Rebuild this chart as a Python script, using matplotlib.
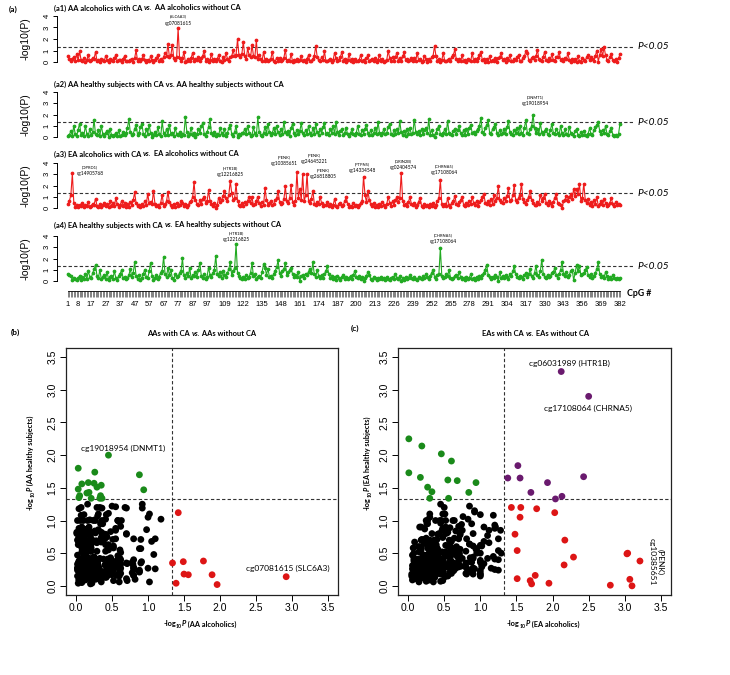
import numpy as np
import matplotlib
matplotlib.use('Agg')
import matplotlib.pyplot as plt
from matplotlib.ticker import FormatStrFormatter

# ---------------- data ----------------
cpg = list(range(1, 383))
cpg_labels = [1, 8, 17, 27, 37, 47, 57, 67, 77, 87, 97, 109, 122, 135, 148, 161, 174,
              187, 200, 213, 226, 239, 252, 265, 278, 291, 304, 317, 330, 343, 356, 369, 382]

# -log10(P), AA alcoholics with CA vs without CA
a1 = [0.52,0.25,0.08,0.30,0.41,0.13,0.71,0.15,0.92,0.20,0.08,0.31,0.02,0.16,0.60,0.07,0.19,0.33,0.29,0.88,
      0.10,0.21,0.04,0.26,0.15,0.09,0.52,0.20,0.03,0.22,0.17,0.05,0.31,0.62,0.08,0.16,0.21,0.02,0.25,0.50,
      0.12,0.05,0.08,0.19,0.28,0.03,0.35,1.02,0.11,0.25,0.06,0.29,0.61,0.14,0.04,0.21,0.07,0.49,0.20,0.04,
      0.16,0.33,0.62,0.10,0.22,0.05,0.45,0.78,0.55,1.56,0.42,0.60,1.49,0.35,0.18,0.47,2.92,0.38,0.05,0.31,
      0.88,0.03,0.12,0.27,0.06,0.36,0.80,0.09,0.22,0.14,0.43,0.08,0.37,0.55,1.00,0.13,0.25,0.04,0.17,0.71,
      0.10,0.24,0.06,0.28,0.60,0.12,0.02,0.41,0.15,0.82,0.30,0.08,0.45,0.52,1.02,0.48,0.63,1.96,0.57,0.44,
      0.70,1.77,0.51,0.26,1.18,0.62,0.40,1.50,0.55,0.47,1.89,0.26,0.58,0.22,0.13,0.91,0.08,0.30,0.07,0.15,
      0.29,0.90,0.12,0.04,0.36,0.11,0.33,0.08,0.19,0.36,1.08,0.06,0.20,0.11,0.70,0.04,0.18,0.07,0.22,0.05,
      0.21,0.50,0.06,0.17,0.03,0.30,0.58,0.05,0.13,0.27,0.52,1.42,0.44,0.17,0.09,0.40,0.15,0.92,0.11,0.06,
      0.14,0.28,0.03,0.19,0.80,0.33,0.09,0.16,0.41,0.90,0.12,0.27,0.01,0.15,0.70,0.10,0.24,0.04,0.28,0.13,
      0.06,0.21,0.62,0.09,0.18,0.04,0.31,0.60,0.05,0.17,0.22,0.08,0.35,0.02,0.21,0.58,0.12,0.26,0.03,0.10,
      0.18,0.98,0.36,0.09,0.41,0.13,0.45,0.80,0.11,0.34,0.07,0.48,0.88,0.17,0.30,0.05,0.19,0.33,0.06,0.35,
      0.11,0.80,0.15,0.28,0.02,0.10,0.52,0.26,0.04,0.25,0.13,0.41,0.56,1.39,0.48,0.11,0.27,0.02,0.16,0.78,
      0.13,0.06,0.15,0.30,0.08,0.45,0.61,1.10,0.22,0.09,0.24,0.05,0.60,0.08,0.21,0.03,0.26,0.19,0.11,0.79,
      0.10,0.23,0.09,0.35,0.60,0.88,0.14,0.27,0.01,0.30,0.03,0.50,0.06,0.20,0.08,0.33,0.04,0.37,0.45,0.80,
      0.16,0.28,0.02,0.31,0.18,0.61,0.12,0.05,0.29,0.16,0.41,0.62,0.10,0.07,0.35,0.48,0.94,0.80,0.18,0.11,
      0.34,0.45,0.20,0.52,1.05,0.27,0.16,0.06,0.44,0.90,0.18,0.09,0.33,0.21,0.70,0.15,0.08,0.40,0.47,0.88,
      0.16,0.30,0.07,0.35,0.22,0.80,0.18,0.04,0.26,0.13,0.29,0.04,0.50,0.08,0.02,0.31,0.17,0.10,0.42,0.60,
      0.15,0.41,0.28,0.09,0.55,1.00,0.04,0.62,1.10,0.52,1.34,0.58,0.20,0.13,0.45,0.70,0.16,0.09,0.25,0.04,
      0.32,0.68]

# -log10(P), AA healthy subjects with CA vs without CA
a2 = [0.08,0.22,0.52,0.11,1.02,0.25,0.08,0.66,1.19,0.20,0.37,0.13,1.00,0.28,0.06,0.71,0.19,0.42,1.51,0.24,
      0.16,0.58,0.09,1.01,0.27,0.12,0.35,0.53,0.04,0.70,0.21,0.07,0.19,0.33,0.05,0.61,0.10,0.15,0.44,0.17,
      0.32,0.80,1.56,0.42,0.15,0.28,0.71,1.10,0.19,0.38,0.86,1.20,0.24,0.11,0.67,0.29,1.08,0.35,0.03,0.22,
      0.43,0.14,0.91,0.27,0.08,1.38,0.36,0.20,0.72,0.17,1.09,0.31,0.37,0.06,0.84,0.25,0.14,0.41,0.13,0.30,
      0.22,1.80,0.48,0.10,0.29,0.81,0.16,0.37,0.04,0.23,0.75,0.32,0.95,1.21,0.27,0.13,0.44,0.88,1.58,0.34,
      0.19,0.42,0.08,0.26,0.15,0.80,0.33,0.21,0.69,0.10,0.38,0.77,1.11,0.24,0.06,0.43,1.00,0.02,0.29,0.16,
      0.35,0.38,0.71,0.27,1.02,0.40,0.13,0.18,0.85,0.32,0.17,1.74,0.46,0.21,0.09,0.37,0.90,0.28,1.20,0.42,
      0.17,0.35,0.82,0.24,1.00,0.41,0.15,0.72,0.30,1.34,0.48,0.23,0.57,0.11,0.79,1.18,0.34,0.20,0.66,0.27,
      0.53,1.22,0.38,0.19,0.63,0.25,1.00,0.36,0.14,0.81,0.29,1.12,0.41,0.18,0.70,0.32,0.87,1.25,0.26,0.39,
      0.22,0.67,0.35,1.01,0.28,1.34,0.42,0.17,0.53,0.71,0.20,0.38,0.80,0.25,0.11,0.36,0.69,0.23,0.15,0.40,
      1.00,0.31,0.19,0.64,0.28,0.75,1.10,0.37,0.22,0.66,0.15,0.33,0.82,0.27,1.34,0.40,0.18,0.35,0.71,0.24,
      0.38,0.86,1.19,0.30,0.17,0.63,0.25,0.72,0.34,1.38,0.41,0.20,0.57,0.13,0.68,0.29,0.78,0.23,0.39,1.54,
      0.46,0.25,0.52,0.18,0.70,0.28,0.61,0.84,0.35,1.57,0.22,0.63,0.16,0.04,0.38,0.74,1.00,0.27,0.19,0.36,
      0.68,0.31,1.42,0.40,0.24,0.17,0.55,0.72,0.29,0.63,1.00,0.32,0.20,0.58,0.14,0.69,0.26,0.81,1.09,0.33,
      0.41,0.23,0.56,0.74,0.98,1.70,0.45,0.30,0.82,1.07,1.48,0.39,0.25,0.71,0.88,1.20,0.34,0.21,0.63,0.28,
      0.37,0.69,0.24,0.86,1.43,0.42,0.31,0.18,0.66,0.33,0.79,0.27,1.00,0.38,0.22,0.83,1.47,0.40,0.29,0.72,
      0.95,2.00,0.76,0.35,0.68,0.27,1.25,0.41,0.23,0.57,0.70,0.30,0.18,0.64,1.19,0.33,0.26,0.72,0.39,0.21,
      1.00,0.35,0.22,0.67,0.29,0.16,0.90,0.38,0.24,0.11,0.53,0.70,0.19,0.08,0.47,0.15,0.56,0.21,0.13,0.30,
      0.80,0.23,0.17,0.62,0.88,1.05,1.35,0.51,0.26,0.58,0.35,1.00,0.29,0.18,0.55,0.80,0.22,0.11,0.16,0.09,
      0.27,1.20]

# -log10(P), EA alcoholics with CA vs without CA
a3 = [0.35,0.62,1.20,3.07,0.48,0.12,0.25,0.06,0.31,0.18,0.44,0.09,0.27,0.15,0.52,0.08,0.21,0.36,0.30,0.84,
      0.22,0.11,0.38,0.05,0.29,0.47,0.14,0.33,0.07,0.58,0.20,0.41,0.16,0.90,0.35,0.10,0.26,0.62,0.19,0.45,
      0.13,0.32,0.08,0.51,0.24,0.70,1.38,0.42,0.17,0.28,0.06,0.39,0.22,0.64,0.31,1.25,0.47,0.55,0.36,1.51,
      0.40,0.15,0.27,0.09,0.48,1.20,0.19,0.33,0.61,1.43,0.52,0.25,0.12,0.37,0.07,0.44,0.21,0.30,0.58,0.46,
      0.18,0.35,0.09,0.27,0.50,0.63,0.95,2.29,0.72,0.40,0.26,0.68,0.33,0.81,1.00,0.47,0.59,1.56,0.64,0.38,
      0.22,0.45,0.01,0.30,0.90,0.54,0.70,1.05,1.51,0.86,0.60,1.18,2.43,1.29,0.75,0.92,2.12,0.64,0.31,0.17,
      0.42,0.20,0.55,0.34,0.66,1.00,0.48,0.94,0.25,0.37,0.60,1.02,0.41,0.18,0.53,0.27,1.78,0.72,0.30,0.45,
      0.60,0.24,0.39,0.70,0.85,1.52,0.57,0.33,0.48,0.76,1.93,0.64,0.41,0.88,2.03,0.55,0.29,0.62,3.21,0.90,
      1.71,0.72,3.03,0.58,1.12,3.04,0.66,0.48,0.81,1.55,0.40,0.27,0.52,0.35,1.00,0.44,0.19,0.31,0.23,0.56,
      0.14,0.38,0.09,0.27,0.80,0.21,0.06,0.33,0.48,0.15,0.29,0.58,1.00,0.36,0.12,0.22,0.07,0.41,0.18,0.30,
      0.09,0.26,0.45,0.62,2.80,1.15,0.54,1.48,0.71,0.33,0.20,0.41,0.13,0.28,0.06,0.37,0.19,0.52,0.24,0.11,
      0.34,1.00,0.45,0.22,0.58,0.31,0.67,1.02,0.49,0.86,3.10,0.64,0.28,0.40,0.17,0.52,1.00,0.35,0.23,0.46,
      0.12,0.30,0.57,0.90,0.21,0.08,0.38,0.16,0.27,0.05,0.33,0.19,0.44,0.10,0.29,0.62,0.85,2.50,0.40,0.22,
      0.36,0.18,0.90,0.27,0.11,0.44,0.60,1.10,0.39,0.25,0.52,0.70,1.00,0.31,0.15,0.47,0.23,0.58,0.34,1.00,
      0.41,0.27,0.62,0.19,0.50,0.73,0.95,1.25,0.46,0.33,0.58,0.24,0.81,0.37,1.20,0.65,0.88,1.95,0.72,0.54,
      0.43,0.86,0.62,1.05,1.76,0.58,0.71,1.12,2.04,0.67,0.49,0.92,1.18,2.16,0.80,0.55,0.38,0.70,1.02,1.55,
      0.70,0.44,0.25,0.30,0.52,0.37,1.20,0.60,0.85,1.25,0.48,0.29,0.63,0.41,0.18,0.55,0.92,1.25,0.46,0.33,
      0.27,0.01,0.58,0.75,1.10,0.62,0.94,1.21,0.83,1.69,1.05,1.70,1.28,2.13,0.66,0.90,2.17,0.74,0.45,0.80,
      0.31,0.52,0.22,0.68,0.40,1.00,0.17,0.36,0.58,0.25,0.80,0.43,0.14,0.29,0.47,0.90,0.33,0.20,0.51,0.26,
      0.38,0.30]

# -log10(P), EA healthy subjects with CA vs without CA
a4 = [0.62,0.55,0.41,0.10,0.30,0.18,0.07,0.26,0.45,0.13,0.35,0.21,0.58,0.16,0.90,0.38,0.24,0.70,1.05,1.43,
      0.46,0.28,1.00,0.15,0.37,0.52,0.22,0.80,0.11,0.33,0.48,0.19,0.90,0.27,0.06,0.41,0.63,1.00,0.25,0.36,
      0.14,0.29,0.50,1.10,0.34,0.72,1.65,0.43,0.21,0.57,0.09,0.31,0.66,1.00,0.38,0.24,0.85,1.62,0.47,0.11,
      0.28,0.52,0.17,0.40,0.75,0.93,2.14,0.61,0.35,1.20,0.49,1.00,0.26,0.13,0.58,0.32,0.44,0.70,0.89,2.02,
      0.55,0.30,0.67,0.41,1.20,0.23,0.50,0.44,0.78,0.36,0.95,1.61,0.48,0.27,0.62,0.18,0.39,1.20,0.57,0.33,
      0.71,0.96,2.25,0.64,0.42,0.81,0.29,0.90,0.54,0.37,0.68,1.08,1.67,0.50,0.85,1.15,3.28,0.73,0.46,0.31,
      0.22,0.40,0.15,0.50,0.27,0.36,0.74,1.58,0.43,0.60,0.19,0.32,0.48,0.25,0.82,1.51,1.18,0.56,1.10,0.38,
      0.47,0.26,0.63,0.91,1.22,1.84,0.70,0.41,0.88,1.06,1.58,0.52,0.79,0.95,1.12,0.61,0.34,0.57,0.38,0.80,
      0.03,0.42,0.49,0.27,0.66,0.50,0.84,1.10,0.72,1.65,0.58,0.36,1.00,0.45,0.23,0.51,0.30,0.62,0.87,1.34,
      0.60,0.28,0.41,0.19,0.35,0.12,0.47,0.26,0.08,0.33,0.50,0.21,0.39,0.14,0.30,0.44,0.17,0.56,0.90,0.37,
      0.25,0.43,0.18,0.32,0.01,0.27,0.46,0.79,0.50,0.22,0.13,0.35,0.24,0.09,0.31,0.20,0.40,0.15,0.28,0.11,
      0.34,0.19,0.07,0.26,0.38,0.16,0.60,0.29,0.21,0.43,0.00,0.25,0.12,0.36,0.18,0.30,0.50,0.23,0.14,0.32,
      0.20,0.09,0.35,0.27,0.16,0.41,0.24,0.60,0.33,0.18,0.46,0.71,1.00,0.38,0.22,0.55,0.64,2.90,0.47,0.29,
      0.36,0.58,0.44,1.00,0.31,0.19,0.27,0.42,0.53,0.25,0.80,0.34,0.15,0.28,0.06,0.39,0.22,0.31,0.60,0.17,
      0.26,0.13,0.35,0.21,0.44,0.30,0.57,0.72,1.00,1.44,0.52,0.33,0.18,0.40,0.25,0.49,0.36,0.04,0.80,0.29,
      0.41,0.23,0.55,0.34,0.16,0.62,0.47,0.85,1.33,0.58,0.37,0.26,0.45,0.32,0.19,0.50,0.70,0.39,0.61,1.05,
      0.44,0.28,0.73,1.34,0.52,0.36,0.88,1.91,0.64,0.40,0.23,0.57,0.35,0.48,0.70,0.82,1.13,0.54,0.31,0.66,
      0.95,1.73,0.60,0.42,0.77,0.33,0.56,0.90,1.02,0.08,0.68,1.43,0.85,1.37,0.49,0.61,0.70,0.94,1.25,0.53,
      0.38,0.62,0.27,0.45,0.71,1.09,1.66,0.58,0.34,0.47,0.29,0.80,0.41,0.22,0.36,0.18,0.50,0.31,0.14,0.27,
      0.20,0.30]

assert all(len(s) == 382 for s in (a1, a2, a3, a4)), [len(s) for s in (a1, a2, a3, a4)]

threshold = 1.33      # dashed reference line (P<0.05)
sig_cut = 1.30        # -log10(0.05)

# ---------------- layout helpers ----------------
W, H = 730, 675
fig = plt.figure(figsize=(W / 100, H / 100), dpi=100)
R = fig.canvas.get_renderer()

def axes_px(l, t, r, b):
    return fig.add_axes([l / W, 1 - b / H, (r - l) / W, (b - t) / H])

def tw(s, **kw):
    t = fig.text(0, 0, s + '|', **kw); a = t.get_window_extent(R).width; t.remove()
    t = fig.text(0, 0, '|', **kw); b = t.get_window_extent(R).width; t.remove()
    return a - b

def rich(xc, yc, parts, size, rot=0, ha='center', family='Lato', weight='bold', color='black'):
    items = []
    for p in parts:
        s = p[0]
        st = p[1] if len(p) > 1 else 'normal'
        sc = p[2] if len(p) > 2 else 1.0
        rise = p[3] if len(p) > 3 else 0.0
        kw = dict(fontsize=size * sc, fontstyle=st, family=family, fontweight=weight)
        items.append((s, kw, rise, tw(s, **kw)))
    total = sum(i[3] for i in items)
    pos = -total / 2 if ha == 'center' else 0.0
    ang = np.deg2rad(rot); c, sn = np.cos(ang), np.sin(ang)
    X0, Y0 = xc, H - yc
    spx = size * 100 / 72
    for s, kw, rise, w in items:
        off = -0.33 * spx + rise * spx
        X = X0 + pos * c - off * sn
        Y = Y0 + pos * sn + off * c
        fig.text(X / W, Y / H, s, rotation=rot, rotation_mode='anchor', ha='left',
                 va='baseline', color=color, **kw)
        pos += w

RED_L = '#ee1c1c'
GRN_L = '#22aa22'

# ---------------- (a) Manhattan-style panels ----------------
AX_L, AX_R = 57, 633
P1, P382 = 68, 620
kx = (P382 - P1) / 381.0
XLO = 1 - (P1 - AX_L) / kx
XHI = 382 + (AX_R - P382) / kx

panels = [
    (a1, RED_L, 16, 62, 8, [('(a1) AA alcoholics with CA ',), ('vs.', 'italic'), (' AA alcoholics without CA',)],
     [('(SLC6A3)', 'cg07081615', 178, 16.5)]),
    (a2, GRN_L, 92, 137, 84, [('(a2) AA healthy subjects with CA vs. AA healthy subjects without CA',)],
     [('(DNMT1)', 'cg19018954', 535, 97)]),
    (a3, RED_L, 163, 208, 154, [('(a3) EA alcoholics with CA ',), ('vs.', 'italic'), (' EA alcoholics without CA',)],
     [('(OPRD1)', 'cg14905768', 90, 167), ('(HTR1B)', 'cg12216825', 230, 168),
      ('(PENK)', 'cg10385651', 284, 157), ('(PENK)', 'cg24645221', 314, 155.5),
      ('(PENK)', 'cg26818805', 323, 170), ('(PTPN5)', 'cg14334548', 362, 164),
      ('(GRIN2B)', 'cg02404574', 403, 161), ('(CHRNA5)', 'cg17108064', 444, 166)]),
    (a4, GRN_L, 236, 281, 225, [('(a4) EA healthy subjects with CA ',), ('vs.', 'italic'), (' EA healthy subjects without CA',)],
     [('(HTR1B)', 'cg12216825', 236, 233), ('(CHRNA5)', 'cg17108064', 443, 235)]),
]

for data, col, y4, y0, ty, tparts, labels in panels:
    u = (y0 - y4) / 4.0
    ax = axes_px(AX_L, y4 - 4, AX_R, y0 + 4)
    ax.set_xlim(XLO, XHI)
    ax.set_ylim(-4 / u, 4 + 4 / u)
    ax.plot(cpg, data, color=col, lw=0.8, marker='o', ms=1.7, mec=col, mfc=col, zorder=3)
    ax.axhline(threshold, color='#333333', lw=0.8, ls=(0, (3, 2)), zorder=2)
    for s in ('top', 'right', 'bottom'):
        ax.spines[s].set_visible(False)
    ax.spines['left'].set_bounds(0, 4)
    ax.spines['left'].set_linewidth(0.7)
    ax.set_xticks([])
    ax.set_yticks([0, 1, 2, 3, 4])
    ax.tick_params(axis='y', length=3, width=0.7, labelsize=5.5, pad=1.5)
    for lab in ax.get_yticklabels():
        lab.set_rotation(90); lab.set_va('center'); lab.set_family('Liberation Sans')
    ax.patch.set_alpha(0)
    # y label
    rich(25, (y4 + y0) / 2, [('-log10(P)',)], 7.5, rot=90, family='Liberation Sans', weight='normal')
    # P<0.05
    fig.text(638 / W, 1 - (y0 - threshold * u) / H, 'P<0.05', fontsize=7.3, style='italic',
             family='Lato', va='center', ha='left')
    # title
    rich(54, ty, tparts, 5.4, ha='left')
    # peak labels
    for g, cg, lx, ly in labels:
        fig.text(lx / W, 1 - ly / H, g, fontsize=3.0, family='Lato', ha='center', va='center')
        fig.text(lx / W, 1 - (ly + 6.5) / H, cg, fontsize=3.4, family='Lato', ha='center', va='center')

fig.text(13 / W, 1 - 9 / H, '(a)', fontsize=6, fontweight='bold', family='Lato', ha='center', va='center')

# CpG index axis
axt = axes_px(AX_L, 284, AX_R, 291)
axt.set_xlim(XLO, XHI)
axt.set_ylim(0, 1)
for s in ('top', 'right', 'left'):
    axt.spines[s].set_visible(False)
axt.spines['bottom'].set_bounds(1, 382)
axt.spines['bottom'].set_linewidth(0.6)
axt.set_yticks([])
axt.set_xticks(cpg, minor=True)
axt.set_xticks(cpg_labels)
axt.set_xticklabels([str(v) for v in cpg_labels])
axt.tick_params(axis='x', which='both', length=4.5, width=0.4, direction='out', color='#222222')
axt.tick_params(axis='x', which='major', labelsize=5.5, pad=2.5)
for lab in axt.get_xticklabels():
    lab.set_family('Liberation Sans')
axt.patch.set_alpha(0)
fig.text(627 / W, 1 - 293 / H, 'CpG #', fontsize=6.3, fontweight='bold', family='Lato', ha='left', va='center')

# ---------------- (b) and (c) scatter panels ----------------
C_BLK, C_GRN, C_RED, C_PUR = '#000000', '#1a8a1a', '#dd1515', '#6a1a6e'

def cat_colors(xs, ys):
    out = []
    for x, y in zip(xs, ys):
        if x > sig_cut and y > sig_cut:
            out.append(C_PUR)
        elif y > sig_cut:
            out.append(C_GRN)
        elif x > sig_cut:
            out.append(C_RED)
        else:
            out.append(C_BLK)
    return out

scatters = [
    (a1, a2, 66, 338, 'b', 15, 332, 'AAs with CA ', ' AAs without CA', 202, 334,
     'AA alcoholics', 'AA healthy subjects', 30, 200),
    (a3, a4, 398, 671, 'c', 355, 328, 'EAs with CA ', ' EAs without CA', 536, 334,
     'EA alcoholics', 'EA healthy subjects', 367, 543),
]

for xs, ys, l, r, letter, lx, ly, t1, t2, tx, tyy, xl, yl, ylx, xlx in scatters:
    ax = axes_px(l, 348, r, 595)
    ax.set_xlim(-0.14, 3.64)
    ax.set_ylim(-0.14, 3.64)
    ax.scatter(xs, ys, s=24, c=cat_colors(xs, ys), edgecolors='none', zorder=3)
    ax.axvline(threshold, color='#333333', lw=0.8, ls=(0, (3, 2)), zorder=2)
    ax.axhline(threshold, color='#333333', lw=0.8, ls=(0, (3, 2)), zorder=2)
    ticks = [0.0, 0.5, 1.0, 1.5, 2.0, 2.5, 3.0, 3.5]
    ax.set_xticks(ticks); ax.set_yticks(ticks)
    ax.xaxis.set_major_formatter(FormatStrFormatter('%.1f'))
    ax.yaxis.set_major_formatter(FormatStrFormatter('%.1f'))
    ax.tick_params(length=4, width=0.7, labelsize=7.5, pad=2)
    for lab in ax.get_xticklabels() + ax.get_yticklabels():
        lab.set_family('Liberation Sans')
    for lab in ax.get_yticklabels():
        lab.set_rotation(90); lab.set_va('center')
    for s in ax.spines.values():
        s.set_linewidth(0.9); s.set_color('#222222')
    fig.text(lx / W, 1 - ly / H, '(' + letter + ')', fontsize=6, fontweight='bold', family='Lato',
             ha='center', va='center')
    rich(tx, tyy, [(t1,), ('vs.', 'italic'), (t2,)], 5.4)
    rich(xlx, 624, [('-log',), ('10', 'normal', 0.7, -0.28), ('P', 'italic'), (' (' + xl + ')',)], 5.3)
    rich(ylx, 463, [('-log',), ('10', 'normal', 0.7, -0.28), ('P', 'italic'), (' (' + yl + ')',)], 5.3, rot=90)

# point annotations
fig.text(123 / W, 1 - 448 / H, 'cg19018954 (DNMT1)', fontsize=6, family='Lato', ha='center', va='center')
fig.text(288 / W, 1 - 568 / H, 'cg07081615 (SLC6A3)', fontsize=6, family='Lato', ha='center', va='center')
fig.text(569 / W, 1 - 363 / H, 'cg06031989 (HTR1B)', fontsize=6, family='Lato', ha='center', va='center')
fig.text(588 / W, 1 - 408 / H, 'cg17108064 (CHRNA5)', fontsize=6, family='Lato', ha='center', va='center')
fig.text(656 / W, 1 - 562 / H, '(PENK)\ncg10385651', fontsize=6, family='Lato', ha='center', va='center',
         rotation=-90, linespacing=1.1)

fig.savefig('out.png', dpi=100)
